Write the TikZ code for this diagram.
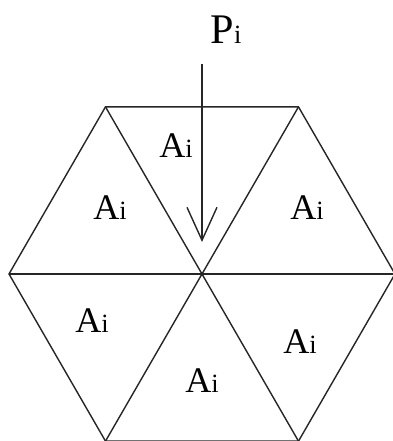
\documentclass[tikz,border=0pt]{standalone}
\usepackage{fontspec}
\setmainfont{Liberation Serif}
\usetikzlibrary{arrows.meta}
\newcommand{\withidx}[1]{#1{\fontsize{15}{15}\selectfont i}}
\tikzset{
	edge/.style ={line width=0.8pt, draw=black!85},
	lab/.style  ={font=\fontsize{20.5}{23}\selectfont, inner sep=0pt},
	load/.style ={line width=0.8pt, draw=black!85, -{Straight Barb[length=6.6mm, width=6mm, line width=0.8pt]}},
}
\begin{document}
\begin{tikzpicture}
	\useasboundingbox (-4.04,-3.34) rectangle (3.82,5.48);
	\coordinate (O) at (0,0);
	% hexagon corners
	\foreach \k in {0,...,5} {
		\coordinate (v\k) at (60*\k:3.86);
	}
	\draw[edge] (v0) -- (v1) -- (v2) -- (v3) -- (v4) -- (v5) -- cycle;
	\foreach \k in {0,...,5} {
		\draw[edge] (O) -- (v\k);
	}
	% load
	\coordinate (tail) at (0,4.2);
	\coordinate (tip) at (0,0.64);
	\draw[load] (tail) -- (tip);
	\node[lab, font=\fontsize{24}{27}\selectfont] (p) at (0.48,4.88) {\withidx{P}};
	% areas
	\node[lab] (a1) at (-0.52,2.56) {\withidx{A}};
	\node[lab] (a2) at (-1.84,1.32) {\withidx{A}};
	\node[lab] (a3) at (2.1,1.32) {\withidx{A}};
	\node[lab] (a4) at (-2.2,-0.94) {\withidx{A}};
	\node[lab] (a5) at (1.96,-1.36) {\withidx{A}};
	\node[lab] (a6) at (0,-2.14) {\withidx{A}};
\end{tikzpicture}
\end{document}
